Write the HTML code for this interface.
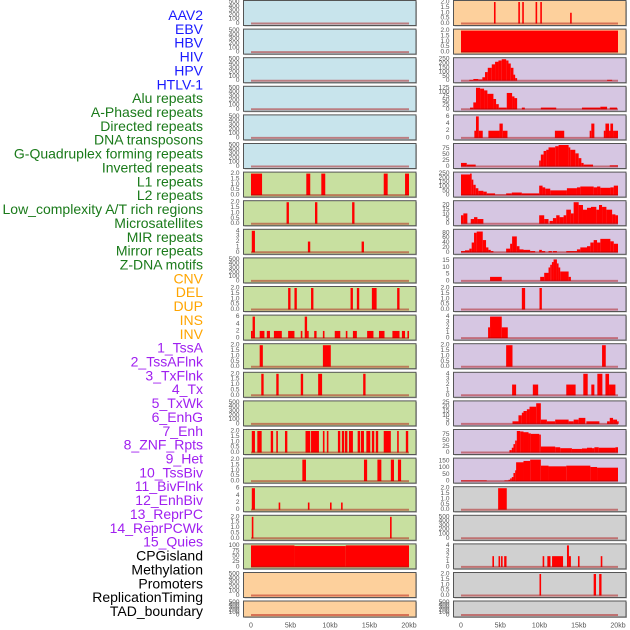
<!DOCTYPE html>
<html><head><meta charset="utf-8"><style>
html,body{margin:0;padding:0;background:#fff;}
svg{display:block;font-family:"Liberation Sans",sans-serif;}
</style></head><body>
<svg id="chart" width="630" height="630" viewBox="0 0 630 630"></svg>
<script>
const trackLabels=["AAV2","EBV","HBV","HIV","HPV","HTLV-1","Alu repeats","A-Phased repeats","Directed repeats","DNA transposons","G-Quadruplex forming repeats","Inverted repeats","L1 repeats","L2 repeats","Low_complexity A/T rich regions","Microsatellites","MIR repeats","Mirror repeats","Z-DNA motifs","CNV","DEL","DUP","INS","INV","1_TssA","2_TssAFlnk","3_TxFlnk","4_Tx","5_TxWk","6_EnhG","7_Enh","8_ZNF_Rpts","9_Het","10_TssBiv","11_BivFlnk","12_EnhBiv","13_ReprPC","14_ReprPCWk","15_Quies","CPGisland","Methylation","Promoters","ReplicationTiming","TAD_boundary"];
const labelColors=[6,"#1a1aff",13,"#1a7a1a",5,"#ffa500",15,"#a020f0",5,"#000000"];
const xTickValues=[0,5,10,15,20];
const xTickLabels=["0","5kb","10kb","15kb","20kb"];
const leftFill=["#c8e4ec","#c8e4ec","#c8e4ec","#c8e4ec","#c8e4ec","#c8e4ec","#c8e0a0","#c8e0a0","#c8e0a0","#c8e0a0","#c8e0a0","#c8e0a0","#c8e0a0","#c8e0a0","#c8e0a0","#c8e0a0","#c8e0a0","#c8e0a0","#c8e0a0","#c8e0a0","#fdd09c","#fdd09c"];
const rightFill=["#fdd09c","#fdd09c","#d6c6e2","#d6c6e2","#d6c6e2","#d6c6e2","#d6c6e2","#d6c6e2","#d6c6e2","#d6c6e2","#d6c6e2","#d6c6e2","#d6c6e2","#d6c6e2","#d6c6e2","#d6c6e2","#d6c6e2","#d0d0d0","#d0d0d0","#d0d0d0","#d0d0d0","#d0d0d0"];
const leftYmax=[500,500,500,500,500,500,2,2,4,500,2,6,2,2,500,2,2,6,2,100,500,500];
const rightYmax=[2,2,250,125,6,90,250,23,88,16,2,4,2,4,25,90,160,2,500,4,2,500];
const leftEdges=[[],[],[],[],[],[],
[0,1.4,7.0,7.5,8.9,9.4,16.8,17.3,19.5,20],
[4.5,4.8,8.1,8.4,12.8,13.1],
[0.1,0.5,7.2,7.5,14.0,14.3],
[],
[4.7,5.0,5.5,5.8,7.6,7.9,12.6,12.9,13.4,13.7,15.3,15.9,18.5,18.8],
[0,0.2,0.5,1.1,1.7,2.0,2.4,2.9,3.9,4.7,5.5,6.3,6.5,6.8,7.1,7.3,8.0,8.3,9.1,9.3,10.6,11.3,12.0,12.2,12.9,13.4,14.7,15.5,16.2,16.9,17.9,18.8,19.1,19.5,19.8,20.0],
[1.1,1.5,9.1,10.1],
[1.3,1.6,3.2,3.5,6.3,6.6,8.5,9.0,14.2,14.5],
[],
[0.1,0.5,0.8,1.35,2.5,2.8,3.2,3.4,4.3,4.6,6.9,7.5,7.6,8.6,9.1,9.3,9.6,9.8,11.0,11.3,11.5,11.8,11.9,12.2,12.4,12.9,13.5,13.8,13.9,14.3,14.6,15.1,15.3,15.6,15.8,16.1,16.8,17.7,18.5,18.7,19.6,19.9],
[6.5,6.96,14.3,14.7,16.0,16.5,17.7,18.1,18.6,19.0],
[0.1,0.5,3.5,3.7,7.2,7.4,10.0,10.2,11.4,11.6],
[0.1,0.3,17.6,17.8],
[0,5.5,12,20],
[],[]];
const leftValues=[[],[],[],[],[],[],
[2,0,2,0,2,0,2,0,2],
[2,0,2,0,2],
[4,0,2,0,2],
[],
[2,0,2,0,2,0,2,0,2,0,2,0,2],
[2,6,0,2,0,2,0,2,0,2,0,2,0,6,2,0,2,0,2,0,2,0,2,0,2,0,2,0,2,0,2,0,2,0,2],
[2,0,2],
[2,0,2,0,2,0,2,0,2],
[],
[2,0,2,0,2,0,2,0,2,0,2,0,2,0,2,0,2,0,2,0,2,0,2,0,2,0,2,0,2,0,2,0,2,0,2,0,2,0,2,0,2],
[2,0,2,0,2,0,2,0,2],
[6,0,2,0,2,0,2,0,2],
[2,0,2],
[100,97,100],
[],[]];
const rightEdges=[
[4.2,4.4,7.3,7.5,7.8,8.0,9.5,9.7,10.1,10.3,13.9,14.1],
[0,20],
[1.06,1.57,2.21,2.72,3.06,3.41,3.92,4.34,4.77,5.19,5.75,6.05,6.34,6.68,6.90,7.15,18.61,19.25],
[1.15,1.57,1.91,2.43,2.94,3.36,4.13,4.47,4.81,5.83,6.51,6.81,7.15,7.75,8.13,10.17,12.13,15.41,17.75,18.61,18.95,19.88],
[1.70,1.91,2.26,2.77,3.49,4.90,5.32,5.92,11.96,13.15,16.39,16.60,16.99,18.19,18.40,18.86,19.03,19.37,20],
[0,0.73,1.87,9.96,10.17,10.52,10.86,11.15,12.0,12.43,13.71,13.92,14.56,14.99,15.33,15.62,16.82,18.95,20],
[0,1.15,1.36,1.57,1.87,2.21,2.85,3.28,4.34,5.75,6.47,7.75,9.96,10.39,10.73,11.37,13.49,14.77,15.20,16.90,17.33,17.75,19.03,19.46,20],
[0,0.3,0.81,1.24,1.66,2.09,2.85,9.96,10.6,11.15,11.28,11.71,12.13,12.56,13.07,13.41,14.0,14.35,14.99,15.54,16.05,16.56,17.24,17.58,17.97,18.52,19.25,19.67,20],
[0,0.51,1.06,1.36,1.66,2.0,2.77,3.19,3.49,3.79,4.13,5.75,6.26,6.51,7.11,7.45,7.96,8.81,9.45,9.96,10.3,10.73,11.15,11.58,11.71,12.22,13.41,14.77,15.2,16.05,16.48,16.9,17.33,17.75,19.03,19.46,20],
[3.70,5.19,10.09,10.6,11.15,11.37,11.58,11.79,12.22,12.43,12.64,13.71,14.0],
[7.75,8.17,10.0,10.3],
[3.45,3.70,5.19,5.96],
[5.75,6.56,17.97,18.44],
[6.51,7.02,9.15,9.83,13.41,14.6,15.58,16.14,16.6,16.99,17.37,18.01,18.4,18.86,19.67],
[6.56,7.32,7.75,7.96,8.39,8.73,9.58,10.17,10.94,12.0,13.71,14.35,14.99,15.84,15.97,17.63,18.61,18.95,19.37,19.88,20],
[6.17,6.47,6.68,6.9,7.11,7.54,7.96,8.6,8.9,9.96,10.17,12.0,12.64,14.13,15.41,16.05,16.69,16.99,17.54,19.67,20],
[0,3.28,5.53,6.05,6.26,6.47,6.68,6.9,7.02,7.96,8.81,10.17,11.15,13.41,16.48,17.33,20],
[4.73,5.83],
[],
[4.0,4.13,4.78,4.98,5.1,5.3,5.5,5.8,10.4,10.6,11.0,11.4,11.6,13.0,13.5,13.75,14.0,14.9,15.1,17.8,18.0],
[10.0,10.2,16.9,17.2,17.6,17.9],
[]];
const rightValues=[
[2,0,2,0,2,0,2,0,2,0,1],
[2],
[10,20,15,40,100,150,190,220,235,250,235,200,150,70,30,0,10],
[10,40,125,120,110,90,60,30,10,95,75,65,0,10,0,10,0,10,15,0,10],
[2,6,2,0,2,4,2,0,2,0,2,4,0,2,4,2,4,2],
[15,8,0,25,50,65,70,80,85,90,80,70,55,35,15,8,0,5],
[240,250,180,120,80,50,40,20,5,20,30,20,110,90,75,55,80,90,100,90,100,85,90,110],
[9,11,0,5,7,5,0,9,5,0,3,6,9,7,9,15,11,23,20,15,17,18,15,20,18,15,10,9],
[5,8,15,40,80,85,50,20,10,5,0,15,35,65,25,12,10,5,0,10,5,0,5,0,5,0,5,12,20,25,40,50,40,55,45,35],
[3,0,3,6,10,12,14,16,13,10,7,3],
[2,0,2],
[2,4,2],
[2,0,2],
[2,0,2,0,2,0,4,0,2,0,4,0,4,2],
[3,10,13,15,17,20,24,5,3,5,3,5,7,0,3,0,3,7,5,3],
[10,20,35,50,90,88,85,80,78,75,25,22,18,15,17,20,18,22,20,22],
[5,0,5,10,20,30,60,80,140,150,160,115,110,115,105,100],
[2],
[],
[2,0,2,0,2,0,2,0,2,0,2,0,2,0,4,2,0,2,0,2],
[2,0,2,0,2],
[]];

const NS="http://www.w3.org/2000/svg";
const svg=document.getElementById('chart');
function mk(tag,attrs,parent){const e=document.createElementNS(NS,tag);for(const k in attrs)e.setAttribute(k,attrs[k]);(parent||svg).appendChild(e);return e;}

let ci=0,cnt=0;
trackLabels.forEach((t,i)=>{
  while(i>=cnt+labelColors[ci]){cnt+=labelColors[ci];ci+=2;}
  const el=mk('text',{x:203,y:15+i*13.86,'text-anchor':'end','dominant-baseline':'central','font-size':14,fill:labelColors[ci+1]});
  el.textContent=t;
  
  
});

function ticksFor(ymax){
  const m={2:[[0,"0.0"],[0.5,"0.5"],[1,"1.0"],[1.5,"1.5"],[2,"2.0"]],4:[[0,"0"],[1,"1"],[2,"2"],[3,"3"],[4,"4"]],6:[[0,"0"],[2,"2"],[4,"4"],[6,"6"]],
  500:[[0,"0"],[100,"100"],[200,"200"],[300,"300"],[400,"400"],[500,"500"]],100:[[0,"0"],[25,"25"],[50,"50"],[75,"75"],[100,"100"]],
  250:[[0,"0"],[50,"50"],[100,"100"],[150,"150"],[200,"200"],[250,"250"]],125:[[0,"0"],[25,"25"],[50,"50"],[75,"75"],[100,"100"],[125,"125"]],
  90:[[0,"0"],[25,"25"],[50,"50"],[75,"75"]],23:[[0,"0"],[5,"5"],[10,"10"],[15,"15"],[20,"20"]],88:[[0,"0"],[20,"20"],[40,"40"],[60,"60"],[80,"80"]],
  16:[[0,"0"],[5,"5"],[10,"10"],[15,"15"]],25:[[0,"0"],[5,"5"],[10,"10"],[15,"15"],[20,"20"],[25,"25"]],160:[[0,"0"],[50,"50"],[100,"100"],[150,"150"]]};
  return m[ymax]||[[0,"0"],[ymax,String(ymax)]];
}

function drawPanel(col,row,fill,ymax,edges,vals){
  const px=col===0?243.5:453.5, pw=172.5;
  const x0=col===0?251:461, x20=col===0?409:618;
  const T=row<21?0.5+row*28.6:601, H=row<21?25:16;
  const xs=kb=>x0+(x20-x0)*kb/20;
  const ys=v=>T+H-2-(v/ymax)*(H-3.5);
  const g=mk('g',{});
  
  
  mk('rect',{x:px+1,y:T+1,width:pw,height:H,fill:'#bbb'},g);
  mk('rect',{x:px,y:T,width:pw,height:H,fill:fill,stroke:'#555','stroke-width':1},g);
  for(let i=0;i<vals.length;i++){
    if(vals[i]<=0)continue;
    const a=xs(edges[i]),b=xs(edges[i+1]);
    const r=mk('rect',{x:a,y:ys(vals[i]),width:Math.max(b-a,1.6),height:ys(0)-ys(vals[i]),fill:'#ff0000'},g);
    
    
  }
  mk('line',{x1:xs(0),x2:xs(20),y1:ys(0),y2:ys(0),stroke:'rgba(170,0,0,0.45)','stroke-width':2},g);
  ticksFor(ymax).forEach(([v,l])=>{
    const t=mk('text',{x:px-4,y:ys(v),'text-anchor':'end','dominant-baseline':'central','font-size':6.5,fill:'#555'},g);
    t.textContent=l;
    
    
  });
}
for(let r=0;r<22;r++){
  drawPanel(0,r,leftFill[r],leftYmax[r],leftEdges[r],leftValues[r]);
  drawPanel(1,r,rightFill[r],rightYmax[r],rightEdges[r],rightValues[r]);
}
[[251,409],[461,618]].forEach(([a,b],c)=>{
  xTickValues.forEach((v,i)=>{
    const t=mk('text',{x:a+(b-a)*v/20,y:626,'text-anchor':'middle','dominant-baseline':'central','font-size':7,fill:'#555'});
    t.textContent=xTickLabels[i];
    
    
  });
});
</script>
</body></html>
